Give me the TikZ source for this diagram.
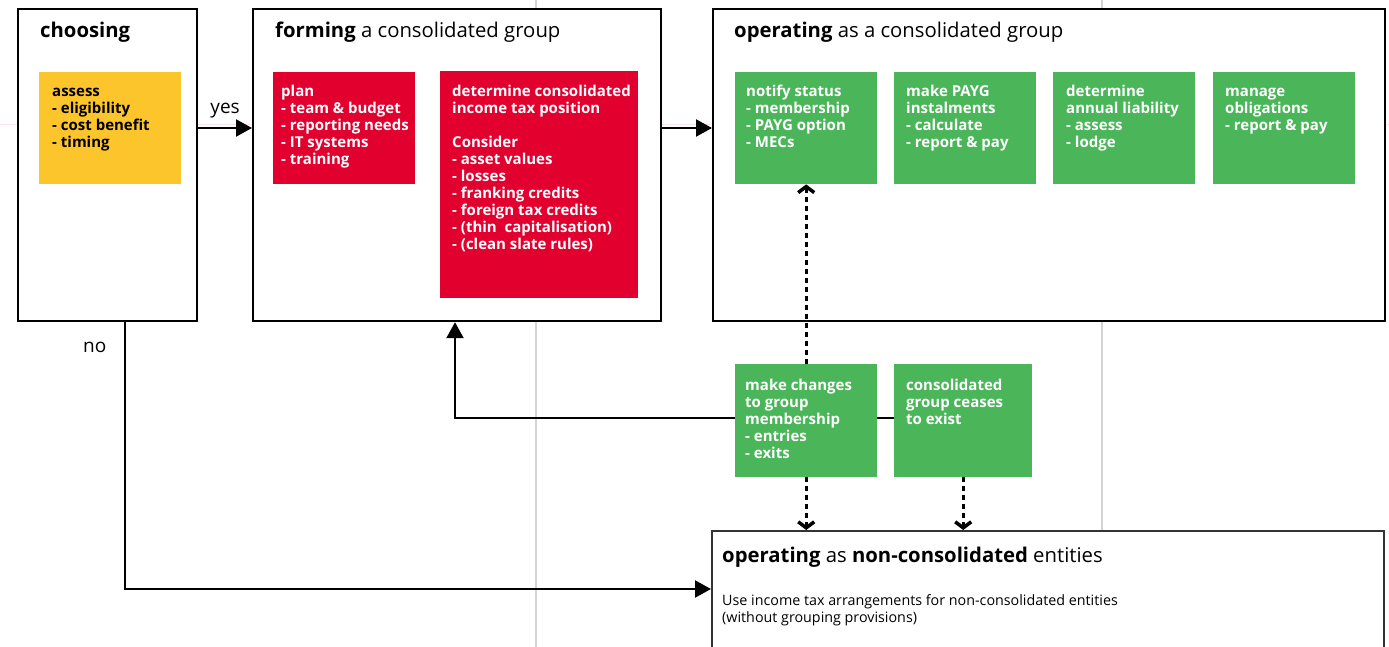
\documentclass[tikz,border=0pt]{standalone}
\usepackage{fontspec}
\setmainfont{Open Sans}
\usetikzlibrary{arrows.meta}
\definecolor{cyel}{RGB}{253,197,44}
\definecolor{cred}{RGB}{226,0,47}
\definecolor{cgrn}{RGB}{75,181,90}
\definecolor{cgray}{RGB}{212,212,212}
\definecolor{cpink}{RGB}{252,228,232}
\newcommand{\tlines}[1]{\begin{tabular}[t]{@{}l@{}}#1\end{tabular}}
\begin{document}
\begin{tikzpicture}[x=1pt,y=-1pt,
  bigbox/.style={draw=black, line width=2.2pt, fill=white, inner sep=0pt, anchor=north west},
  cbox/.style={inner sep=0pt, anchor=north west, minimum width=142pt, minimum height=112pt},
  btext/.style={font=\fontsize{15}{17}\selectfont\bfseries, anchor=base west, inner sep=0pt},
  ttext/.style={font=\fontsize{20.3}{24}\selectfont, anchor=base west, inner sep=0pt},
  ltext/.style={font=\fontsize{19}{24}\selectfont, anchor=base west, inner sep=0pt},
  stext/.style={font=\fontsize{14.3}{17}\selectfont, anchor=base west, inner sep=0pt},
  arr/.style={line width=2.2pt, -{Triangle[length=16pt,width=17pt]}},
  darr/.style={line width=3pt, dash pattern=on 5pt off 4pt, -{Straight Barb[length=6pt,width=16pt,line width=3.5pt]}},
  guide/.style={draw=cgray, line width=1.5pt}
]
\useasboundingbox (0,0) rectangle (1389,647);
% background guide lines
\draw[guide] (536,0) -- (536,647);
\draw[guide] (1102,0) -- (1102,647);
\draw[cpink, line width=0.8pt] (0,124) -- (1389,124);

% big boxes
\node[bigbox, minimum width=179pt, minimum height=312pt] (choose) at (17,8) {};
\node[bigbox, minimum width=408pt, minimum height=312pt] (form) at (252,8) {};
\node[bigbox, minimum width=672pt, minimum height=312pt] (oper) at (712,8) {};
\node[bigbox, draw=black!80, line width=1.5pt, minimum width=672pt, minimum height=140pt] (nonc) at (711,530) {};

% titles
\node[ttext] (tchoose) at (40,38) {\textbf{choosing}};
\node[ttext] (tform) at (275,38) {\textbf{forming} a consolidated group};
\node[ttext] (toper) at (734,38) {\textbf{operating} as a consolidated group};
\node[ttext] (tnonc) at (722,562) {\textbf{operating} as \textbf{non-consolidated} entities};
\node[stext] (unonc) at (722,605) {\tlines{Use income tax arrangements for non-consolidated entities\\(without grouping provisions)}};

% coloured boxes
\node[cbox, fill=cyel] (assess) at (39,72) {};
\node[btext, text=black] (tassess) at (52,97) {\tlines{assess\\- eligibility\\- cost benefit\\- timing}};

\node[cbox, fill=cred] (plan) at (273,72) {};
\node[btext, text=white] (tplan) at (281,97) {\tlines{plan\\- team \& budget\\- reporting needs\\- IT systems\\- training}};

\node[cbox, fill=cred, minimum width=198pt, minimum height=227pt] (detpos) at (440,71) {};
\node[btext, text=white] (tdetpos) at (452,97) {\tlines{determine consolidated\\income tax position\\[17pt]Consider\\- asset values\\- losses\\- franking credits\\- foreign tax credits\\- (thin\ \ capitalisation)\\- (clean slate rules)}};

\node[cbox, fill=cgrn] (notify) at (735,72) {};
\node[btext, text=white] (tnotify) at (746,97) {\tlines{notify status\\- membership\\- PAYG option\\- MECs}};
\node[cbox, fill=cgrn] (payg) at (894,72) {};
\node[btext, text=white] (tpayg) at (906,97) {\tlines{make PAYG\\instalments\\- calculate\\- report \& pay}};
\node[cbox, fill=cgrn] (annual) at (1053,72) {};
\node[btext, text=white] (tannual) at (1066,97) {\tlines{determine\\annual liability\\- assess\\- lodge}};
\node[cbox, fill=cgrn] (manage) at (1213,72) {};
\node[btext, text=white] (tmanage) at (1225,97) {\tlines{manage\\obligations\\- report \& pay}};

\node[cbox, fill=cgrn, minimum height=113pt] (chg) at (735,364) {};
\node[btext, text=white] (tchg) at (745,390) {\tlines{make changes\\to group\\membership\\- entries\\- exits}};
\node[cbox, fill=cgrn, minimum width=138pt, minimum height=113pt] (cease) at (894,364) {};
\node[btext, text=white] (tcease) at (906,390) {\tlines{consolidated\\group ceases\\to exist}};

% connectors
\coordinate (yesy) at (0,128);
\coordinate (noturn) at (125,589);
\coordinate (backx) at (455,418);

\draw[arr] (choose.east |- yesy) -- node[ltext, anchor=south, above=9pt] (lyes) {yes} (form.west |- yesy);
\draw[arr] (form.east |- yesy) -- (oper.west |- yesy);
\draw[arr] (choose.south -| noturn) -- (noturn) -- (nonc.west |- noturn);
\node[ltext] (lno) at (83,352) {no};
\draw[arr] (chg.west |- backx) -- (backx) -- (form.south -| backx);
\draw[line width=2.2pt] (chg.east |- backx) -- (cease.west |- backx);

\draw[darr] (chg.north) -- (notify.south);
\draw[darr] (chg.south) -- (nonc.north -| chg.south);
\draw[darr] (cease.south) -- (nonc.north -| cease.south);
\end{tikzpicture}
\end{document}
